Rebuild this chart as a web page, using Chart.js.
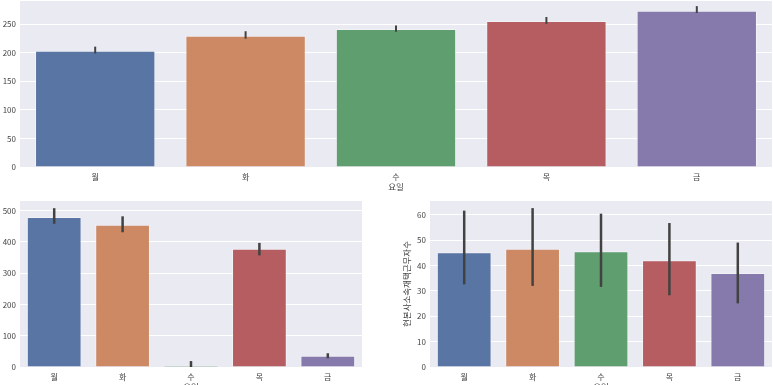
<!DOCTYPE html>
<html>
<head>
<meta charset="utf-8">
<script src="https://cdn.jsdelivr.net/npm/chart.js@4"></script>
<style>
  html, body { margin: 0; padding: 0; background: #fff; overflow: hidden; }
  .box { position: absolute; }
</style>
</head>
<body>
<div class="box" style="left:0;top:0;width:773px;height:195px"><canvas id="topChart"></canvas></div>
<div class="box" style="left:0;top:195px;width:385px;height:200px"><canvas id="leftChart"></canvas></div>
<div class="box" style="left:385px;top:195px;width:388px;height:200px"><canvas id="rightChart"></canvas></div>
<script>
const days = ['월', '화', '수', '목', '금'];

const topValues = [203.7, 230, 242, 256, 274];
const topLow = [199, 225, 237, 251, 270];
const topHigh = [211, 238, 248, 263, 282];

const leftValues = [480, 455, 5, 378, 36];
const leftLow = [458, 431, 0, 357, 28];
const leftHigh = [508, 482, 19, 397, 44];

const rightValues = [45.3, 46.7, 45.7, 42.1, 37.1];
const rightLow = [32.6, 32, 31.6, 28.3, 25.1];
const rightHigh = [61.7, 62.7, 60.5, 56.8, 49.1];

const colors = ['#5975a4', '#cc8963', '#5f9e6e', '#b55d60', '#857aab'];
const fontFamily = '"Noto Sans CJK KR", "Noto Sans", sans-serif';

// grey plot background like seaborn darkgrid
const bgPlugin = {
  id: 'plotBg',
  beforeDraw(chart) {
    const a = chart.chartArea, ctx = chart.ctx;
    ctx.save();
    ctx.fillStyle = '#eaeaf2';
    ctx.fillRect(a.left, a.top, a.right - a.left, a.bottom - a.top);
    ctx.restore();
  }
};

// error bars drawn through the y scale
const errPlugin = {
  id: 'errBars',
  afterDatasetsDraw(chart, args, opts) {
    const ctx = chart.ctx, meta = chart.getDatasetMeta(0), y = chart.scales.y;
    ctx.save();
    ctx.strokeStyle = '#424242';
    ctx.lineWidth = opts.width;
    meta.data.forEach((bar, i) => {
      ctx.beginPath();
      ctx.moveTo(bar.x, y.getPixelForValue(opts.low[i]));
      ctx.lineTo(bar.x, y.getPixelForValue(opts.high[i]));
      ctx.stroke();
    });
    ctx.restore();
  }
};

const createChart = (el, values, low, high, opt) => {
  return new Chart(el, {
    type: 'bar',
    data: {
      labels: days,
      datasets: [{
        data: values,
        backgroundColor: colors,
        borderColor: 'rgba(255,255,255,0.35)',
        borderWidth: 1,
        categoryPercentage: 0.8,
        barPercentage: 1
      }]
    },
    plugins: [bgPlugin, errPlugin],
    options: {
      animation: false,
      responsive: true,
      maintainAspectRatio: false,
      layout: { padding: opt.padding },
      plugins: {
        legend: { display: false },
        tooltip: { enabled: false },
        errBars: { low: low, high: high, width: opt.errWidth }
      },
      scales: {
        x: {
          grid: { display: false, drawTicks: false },
          border: { display: false },
          ticks: { color: '#444', font: { family: fontFamily, size: 8 }, padding: 5, maxRotation: 0 },
          title: { display: true, text: '요일', color: '#444', font: { family: fontFamily, size: 8.5 }, padding: { top: 0, bottom: 3 } },
          afterFit: (s) => { s.height = 28; s.paddingLeft = 0; s.paddingRight = 0; }
        },
        y: {
          min: 0,
          max: opt.max,
          grid: { color: '#ffffff', lineWidth: 1, drawTicks: false },
          border: { display: false },
          ticks: { stepSize: opt.step, color: '#444', font: { family: fontFamily, size: 8 }, padding: 4 },
          title: { display: !!opt.yTitle, text: opt.yTitle || '', color: '#444', font: { family: fontFamily, size: 8.5 }, padding: { top: 17, bottom: 0 } },
          afterBuildTicks: (s) => { s.ticks = s.ticks.filter(t => Math.abs(t.value / opt.step - Math.round(t.value / opt.step)) < 1e-6); },
          afterFit: (s) => { s.width = opt.yWidth; s.paddingTop = 0; s.paddingBottom = 0; }
        }
      }
    }
  });
};

const topChart = createChart(document.getElementById('topChart'), topValues, topLow, topHigh,
  { padding: { top: 1, right: 1, left: 0, bottom: 0 }, max: 291, step: 50, yWidth: 20, errWidth: 2 });
const leftChart = createChart(document.getElementById('leftChart'), leftValues, leftLow, leftHigh,
  { padding: { top: 6, right: 23, left: 0, bottom: 0 }, max: 531, step: 100, yWidth: 20, errWidth: 2.5 });
const rightChart = createChart(document.getElementById('rightChart'), rightValues, rightLow, rightHigh,
  { padding: { top: 6, right: 1, left: 0, bottom: 0 }, max: 65.5, step: 10, yWidth: 45, errWidth: 2.5, yTitle: '현본사소속재택근무자수' });
</script>
</body>
</html>
